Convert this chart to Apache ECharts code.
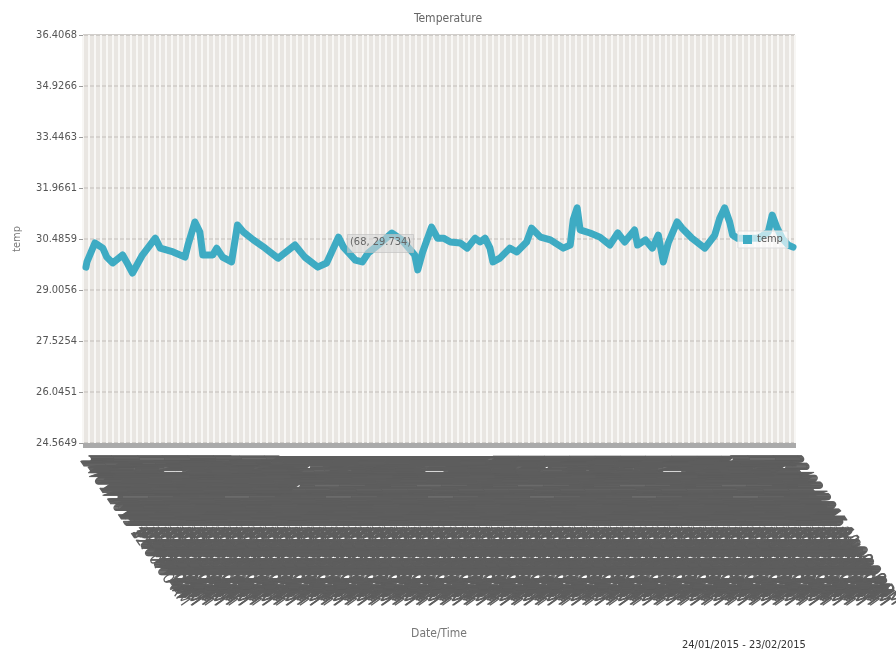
<!DOCTYPE html>
<html>
<head>
<meta charset="utf-8">
<script src="https://cdn.jsdelivr.net/npm/echarts@6/dist/echarts.min.js"></script>
<style>
  html, body { margin: 0; padding: 0; background: #fff; }
  #chart { width: 896px; height: 655px; }
</style>
</head>
<body>
<div id="chart"></div>
<script>
// y axis ticks as printed on the chart
const yTicks = [24.5649, 26.0451, 27.5254, 29.0056, 30.4859, 31.9661, 33.4463, 34.9266, 36.4068];

// hourly readings 24/01/2015 - 23/02/2015 (hour index from start, temperature)
const sampleHours = [3, 4, 12, 20, 24, 30, 40, 44, 50, 60, 73, 78, 91, 103, 106, 113, 118, 121, 131, 135,
  141, 150, 156, 162, 172, 184, 197, 214, 224, 237, 246, 258, 263, 275, 282, 288, 298, 312, 322, 335,
  338, 343, 352, 358, 364, 371, 381, 388, 396, 401, 406, 411, 414, 421, 431, 438, 448, 453, 462, 472,
  485, 492, 495, 499, 502, 512, 522, 532, 540, 547, 557, 560, 568, 575, 581, 586, 591, 600, 605, 615,
  628, 638, 643, 648, 653, 656, 661, 671, 682, 692, 696, 701, 706, 712, 717];
const tempValues = [29.67, 29.82, 30.37, 30.22, 29.96, 29.79, 30.02, 29.82, 29.50, 30.02, 30.51, 30.22, 30.11, 29.96, 30.31, 30.98, 30.69, 30.02, 30.02, 30.22,
  29.96, 29.82, 30.89, 30.69, 30.46, 30.22, 29.93, 30.31, 29.96, 29.67, 29.79, 30.54, 30.25, 29.87, 29.82, 30.08, 30.31, 30.66, 30.46, 30.02,
  29.59, 30.11, 30.83, 30.51, 30.51, 30.40, 30.37, 30.22, 30.51, 30.40, 30.51, 30.22, 29.82, 29.93, 30.22, 30.11, 30.40, 30.80, 30.54, 30.46,
  30.22, 30.31, 31.04, 31.39, 30.75, 30.66, 30.54, 30.31, 30.66, 30.40, 30.75, 30.31, 30.46, 30.22, 30.60, 29.82, 30.37, 30.98, 30.80, 30.51,
  30.22, 30.60, 31.09, 31.39, 30.98, 30.60, 30.51, 30.51, 30.51, 30.69, 31.18, 30.80, 30.51, 30.31, 30.25];

// Date/Time category labels, one per hour
const startDate = new Date(2015, 0, 24, 0, 0, 0);
const hourCount = 720;
const pad = n => (n < 10 ? '0' : '') + n;
const timeLabels = [];
for (let h = 0; h < hourCount; h++) {
  const d = new Date(startDate.getTime() + h * 3600 * 1000);
  let hr = d.getHours() % 12;
  if (hr === 0) hr = 12;
  timeLabels.push(pad(d.getDate()) + '/' + pad(d.getMonth() + 1) + '/' + d.getFullYear() + ' ' +
    hr + ':00:00 ' + (d.getHours() < 12 ? 'AM' : 'PM'));
}

const chart = echarts.init(document.getElementById('chart'));
const font = "'Liberation Sans Narrow', 'DejaVu Sans Condensed', 'Liberation Sans', sans-serif";

const option = {
  animation: false,
  textStyle: { fontFamily: font },
  title: {
    text: 'Temperature',
    left: 'center',
    top: 8,
    textStyle: { fontSize: 12, fontWeight: 'normal', color: '#666', fontFamily: font }
  },
  legend: {
    data: ['temp'],
    left: 738,
    top: 231,
    icon: 'rect',
    itemWidth: 9,
    itemHeight: 9,
    itemGap: 4,
    padding: [3, 5],
    backgroundColor: 'rgba(255,255,255,0.65)',
    borderColor: '#ddd',
    borderWidth: 1,
    textStyle: { fontSize: 11, color: '#555', fontFamily: font }
  },
  grid: {
    left: 83,
    right: 101,
    top: 35,
    bottom: 212,
    containLabel: false,
    outerBoundsMode: 'none',
    show: true,
    backgroundColor: '#e9e6e2',
    borderColor: '#b5b5b5',
    borderWidth: 1
  },
  xAxis: {
    type: 'category',
    data: timeLabels,
    boundaryGap: false,
    name: 'Date/Time',
    nameLocation: 'middle',
    nameGap: 185,
    nameTextStyle: { fontSize: 12, color: '#777' },
    axisLine: { lineStyle: { color: '#999' } },
    axisTick: { show: true, interval: 0, length: 5, lineStyle: { color: '#aaa' } },
    axisLabel: { interval: 0, rotate: -55, fontSize: 16, color: '#5e5e5e', margin: 15 },
    splitLine: { show: true, interval: 5, lineStyle: { color: '#f8f7f5', width: 2 } }
  },
  yAxis: {
    type: 'value',
    min: yTicks[0],
    max: yTicks[yTicks.length - 1],
    name: 'temp',
    nameLocation: 'middle',
    nameGap: 60,
    nameTextStyle: { fontSize: 11, color: '#777' },
    axisLine: { show: false },
    axisTick: { show: true, customValues: yTicks, length: 4, lineStyle: { color: '#999' } },
    axisLabel: {
      customValues: yTicks,
      fontSize: 11,
      color: '#555',
      margin: 6,
      formatter: v => v.toFixed(4)
    },
    splitLine: { show: true, lineStyle: { color: '#cfcbc7', width: 1.5 } }
  },
  series: [
    {
      name: 'temp',
      type: 'line',
      color: '#3eabc3',
      showSymbol: false,
      data: sampleHours.map((h, i) => [h, tempValues[i]]),
      lineStyle: { width: 7, cap: 'round', join: 'round' }
    }
  ],
  graphic: [
    {
      type: 'rect',
      left: 347,
      top: 234,
      z: 100,
      shape: { width: 66, height: 18 },
      style: { fill: 'rgba(215,215,215,0.6)', stroke: 'rgba(190,190,190,0.6)' }
    },
    {
      type: 'text',
      left: 350,
      top: 237,
      z: 101,
      style: { text: '(68, 29.734)', fill: '#666', font: '11px ' + font }
    },
    {
      type: 'text',
      left: 682,
      top: 640,
      style: { text: '24/01/2015 - 23/02/2015', fill: '#333', font: '11px ' + font }
    }
  ]
};

chart.setOption(option);
</script>
</body>
</html>
